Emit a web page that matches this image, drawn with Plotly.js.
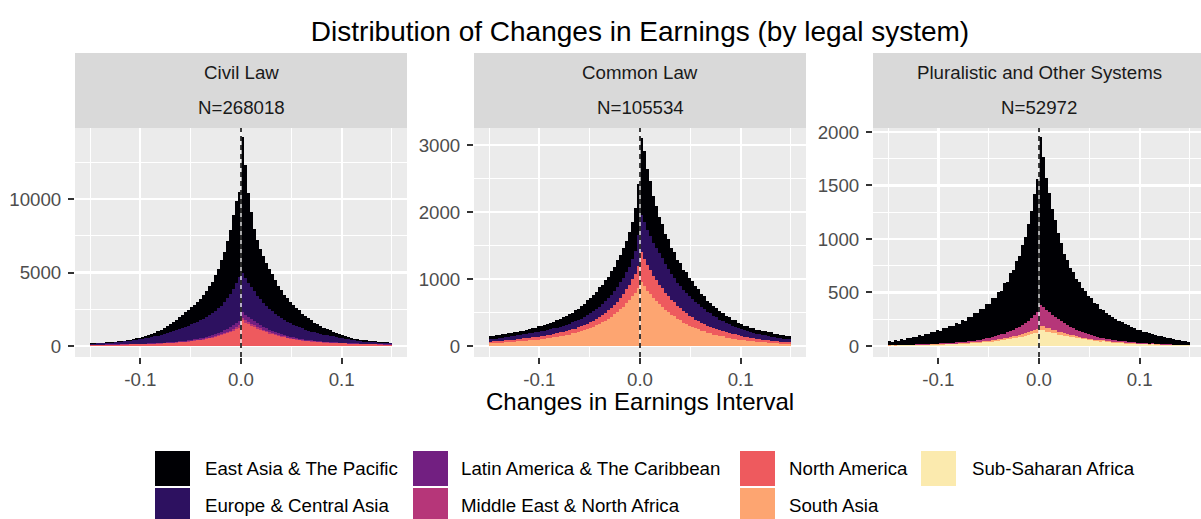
<!DOCTYPE html>
<html>
<head>
<meta charset="utf-8">
<script src="https://cdn.plot.ly/plotly-3.0.1.min.js"></script>
<style>
html,body{margin:0;padding:0;background:#ffffff;}
#chart{width:1201px;height:519px;}
</style>
</head>
<body>
<div id="chart"></div>
<script>
// ---------------- data ----------------
const regions = ["East Asia & The Pacific","Europe & Central Asia","Latin America & The Caribbean","Middle East & North Africa","North America","South Asia","Sub-Saharan Africa"];
const regionColors = ["#000004","#2D1160","#721F81","#B63679","#EE5A5E","#FDA571","#FBEAAE"];
const legalSystems = ["Civil Law","Common Law","Pluralistic and Other Systems"];
const sampleSizes = ["N=268018","N=105534","N=52972"];
const chartTitle = "Distribution of Changes in Earnings (by legal system)";
const xAxisTitle = "Changes in Earnings Interval";

// histogram bins: first bin centre and bin width (100 bins from -0.15 to 0.15)
const firstBinCenter = -0.1485;
const binWidth = 0.003;

const xTickVals = [-0.1, 0, 0.1];
const xTickText = ["-0.1", "0.0", "0.1"];
const xMinorVals = [-0.15, -0.05, 0.05, 0.15];
const yTickVals = [[0, 5000, 10000], [0, 1000, 2000, 3000], [0, 500, 1000, 1500, 2000]];
const yTickText = [["0", "5000", "10000"], ["0", "1000", "2000", "3000"], ["0", "500", "1000", "1500", "2000"]];
const yMinorVals = [[2500, 7500, 12500], [500, 1500, 2500], [250, 750, 1250, 1750]];

// Civil Law counts per bin (left to right)
const civilNorthAmerica = [69,71,73,75,77,79,81,84,87,90,93,96,100,104,108,113,118,124,130,136,143,151,159,168,178,189,201,214,228,244,261,280,300,323,348,375,405,438,475,515,560,610,665,725,790,860,940,1030,1130,1250,
1750,1590,1490,1360,1280,1160,1090,990,940,850,810,730,700,630,600,530,500,450,425,385,370,335,325,295,290,265,260,235,232,212,209,191,188,172,171,157,155,142,140,129,128,118,117,108,107,98,98,90,90,83];
const civilMiddleEast = [7,7,8,8,8,8,9,9,9,10,10,10,11,11,11,12,12,13,13,14,14,15,15,16,17,18,19,20,21,22,23,25,27,29,31,34,37,40,44,49,54,60,67,75,84,94,106,120,135,150,
180,165,150,138,126,115,105,96,88,81,74,68,62,57,52,48,44,40,37,34,32,30,28,26,24,22,21,20,19,18,17,16,15,14,14,13,13,12,12,11,11,10,10,10,9,9,9,8,8,8];
const civilLatinAmerica = [13,14,14,15,15,16,16,17,17,18,18,19,20,21,22,23,24,25,26,27,28,30,31,33,35,37,39,41,44,47,50,54,58,63,68,74,81,89,98,108,120,133,148,165,185,208,235,265,300,330,
400,370,340,310,285,260,240,220,200,185,170,155,142,130,120,110,100,92,85,78,72,67,62,58,54,50,47,44,41,39,37,35,33,31,30,28,27,26,25,24,23,22,21,20,19,18,18,17,17,16];
const civilEurope = [65,70,76,83,92,101,111,122,135,148,165,182,199,219,241,264,291,318,351,383,420,459,500,543,590,636,686,735,787,837,891,941,995,1050,1108,1167,1227,1293,1363,1438,1516,1597,1680,1785,1921,2088,2269,2485,2735,2970,
2670,2515,2330,2180,2020,1885,1755,1635,1520,1425,1325,1235,1155,1085,1020,960,915,865,820,770,720,680,635,595,555,525,490,465,435,410,385,360,340,320,290,265,240,215,195,170,140,133,124,115,107,99,90,84,77,71];
const civilEastAsia = [41,46,36,42,35,41,37,44,40,48,46,57,57,74,80,103,112,141,156,197,214,263,288,350,392,472,524,632,708,845,898,1005,1058,1175,1238,1365,1448,1625,1755,1960,2130,2420,2670,3070,3400,3870,4330,5020,5580,5800,
9200,7680,6080,5130,4270,3800,3390,3180,2880,2730,2500,2330,2050,1910,1680,1610,1430,1350,1200,1150,1010,955,830,785,670,630,520,490,405,380,300,275,210,195,150,150,118,112,106,108,96,94,78,79,67,70,60,62,54,57];

// Common Law counts per bin
const commonSouthAsia = [41,47,45,51,50,57,56,63,62,69,69,77,77,85,86,95,96,106,107,118,120,132,135,148,151,165,171,187,194,212,221,242,252,275,288,314,329,358,377,410,433,473,502,548,582,640,680,745,795,870,
950,895,825,780,715,678,620,588,536,510,464,443,402,386,349,335,302,291,262,252,227,219,196,190,170,165,147,143,127,124,110,108,95,94,83,81,72,71,62,62,55,54,48,47,42,41,37,37,33,33];
const commonNorthAmerica = [26,27,28,29,30,31,32,33,34,36,37,38,39,41,42,43,45,46,47,49,50,52,54,56,58,60,62,64,66,69,72,75,79,83,87,92,98,105,112,121,131,142,155,170,187,205,225,250,280,330,
450,410,380,355,328,308,290,273,258,240,225,210,196,183,171,160,150,140,132,124,117,111,105,100,95,90,85,80,76,72,68,65,62,59,56,53,50,47,45,42,40,38,36,34,32,31,29,27,26,25];
const commonEurope = [34,36,38,41,43,45,47,49,51,53,55,57,59,61,63,65,67,69,72,74,77,79,81,84,87,91,96,101,106,111,116,122,128,135,142,150,160,170,181,192,202,213,225,235,245,260,280,310,350,450,
550,550,530,510,500,480,475,455,430,405,385,362,346,327,315,300,288,274,262,248,237,224,210,199,187,174,163,152,142,132,124,115,107,100,94,89,84,80,76,73,69,66,62,59,56,53,50,48,45,43];
const commonEastAsia = [44,40,48,43,50,46,54,50,59,55,63,59,70,66,76,72,87,79,92,88,102,98,116,112,130,127,146,144,168,166,193,192,222,218,246,250,290,278,310,312,348,350,395,400,450,460,520,540,630,770,
1150,1060,900,820,690,630,545,505,455,440,395,385,345,338,305,306,280,266,235,226,190,186,166,160,141,139,123,122,108,109,92,93,80,78,68,72,64,69,62,66,60,65,58,63,56,60,52,56,48,51];

// Pluralistic and Other Systems counts per bin
const pluralSubSaharan = [4,5,4,6,5,6,6,7,7,8,8,9,9,10,10,11,11,13,13,15,15,17,17,19,19,21,22,25,26,29,30,33,35,39,41,45,47,52,55,61,64,71,75,83,87,96,101,111,117,125,
150,148,135,132,120,117,106,103,93,91,81,80,71,70,62,62,54,54,47,48,41,42,36,36,31,31,27,27,23,23,20,20,17,18,15,16,13,14,11,12,10,10,9,9,7,8,6,7,5,6];
const pluralSouthAsia = [1,1,2,2,2,2,2,2,2,3,3,3,3,3,4,4,4,4,5,5,5,6,6,6,7,7,8,8,9,9,10,10,11,12,13,14,15,16,17,18,19,20,21,23,25,27,29,31,33,35,
40,38,36,34,32,30,28,26,24,22,21,20,19,18,17,16,15,14,13,12,11,10,10,9,9,8,8,7,7,6,6,6,5,5,5,4,4,4,4,3,3,3,3,3,2,2,2,2,2,2];
const pluralMiddleEast = [2,2,2,2,2,3,3,3,3,4,4,4,5,5,5,6,6,7,7,8,8,9,10,11,12,13,14,15,16,18,20,22,24,26,29,32,36,40,44,49,55,61,68,76,85,96,108,122,140,160,
190,176,168,147,141,122,117,100,96,81,78,66,63,53,51,43,41,35,33,28,27,22,22,18,18,15,14,13,12,11,10,9,8,8,7,7,6,6,5,5,5,4,4,4,3,3,3,3,2,2];
const pluralEastAsia = [38,29,47,40,56,48,65,58,76,70,86,80,99,93,112,106,127,120,142,136,161,152,180,172,203,196,226,220,254,248,286,280,322,316,362,360,410,405,468,470,540,560,630,660,745,800,905,1000,1130,1240,
1570,1400,1235,1112,990,906,802,738,650,612,553,526,474,455,410,396,356,348,310,303,270,260,243,228,212,200,186,175,162,152,142,133,124,115,107,100,94,86,82,74,71,64,61,55,53,46,45,38,37,31];

// stacking order bottom -> top, as [region index, counts]
const panelSeries = [
  [[4, civilNorthAmerica], [3, civilMiddleEast], [2, civilLatinAmerica], [1, civilEurope], [0, civilEastAsia]],
  [[5, commonSouthAsia], [4, commonNorthAmerica], [1, commonEurope], [0, commonEastAsia]],
  [[6, pluralSubSaharan], [5, pluralSouthAsia], [3, pluralMiddleEast], [0, pluralEastAsia]]
];

// ---------------- layout geometry (pixels) ----------------
const W = 1201, H = 519;
const px = v => v / W;
const py = v => 1 - v / H;
const panelLeft = [75, 474, 873];
const panelRight = [407, 806, 1201];
const stripTop = 53, panelTop = 128, panelBottom = 357;
const xRanges = [[-0.165, 0.165], [-0.165, 0.165], [-0.165, 0.161]];
const yRanges = [[-748, 14830], [-164, 3254], [-103, 2037]];

const FONT = '"Liberation Sans", Arial, sans-serif';
const axisTextColor = '#4d4d4d';

const traces = [];
panelSeries.forEach((series, p) => {
  const sfx = p === 0 ? '' : String(p + 1);
  series.forEach(([ri, counts]) => {
    traces.push({
      type: 'bar',
      x0: firstBinCenter,
      dx: binWidth,
      y: counts,
      xaxis: 'x' + sfx,
      yaxis: 'y' + sfx,
      name: regions[ri],
      marker: {color: regionColors[ri], line: {width: 0}},
      showlegend: false,
      hoverinfo: 'skip'
    });
  });
});

const layout = {
  width: W, height: H,
  margin: {l: 0, r: 0, t: 0, b: 0, pad: 0},
  paper_bgcolor: '#ffffff',
  plot_bgcolor: '#ebebeb',
  barmode: 'stack',
  bargap: 0,
  showlegend: false,
  font: {family: FONT, color: '#000000'},
  title: {
    text: chartTitle,
    x: px(640), xanchor: 'center', xref: 'paper',
    y: py(31), yanchor: 'middle', yref: 'container',
    font: {family: FONT, size: 28, color: '#000000'}
  },
  shapes: [],
  annotations: []
};

for (let p = 0; p < 3; p++) {
  const sfx = p === 0 ? '' : String(p + 1);
  layout['xaxis' + sfx] = {
    domain: [px(panelLeft[p]), px(panelRight[p])],
    range: xRanges[p],
    anchor: 'y' + sfx,
    tickmode: 'array', tickvals: xTickVals, ticktext: xTickText,
    ticks: 'outside', ticklen: 6, tickwidth: 2, tickcolor: '#333333',
    tickfont: {family: FONT, size: 18.7, color: axisTextColor},
    showgrid: true, gridcolor: '#ffffff', gridwidth: 2.2,
    zeroline: false, showline: false, fixedrange: true,
    minor: {tickmode: 'array', tickvals: xMinorVals, showgrid: true, gridcolor: '#ffffff', gridwidth: 1.1, ticks: ''}
  };
  layout['yaxis' + sfx] = {
    domain: [py(panelBottom), py(panelTop)],
    range: yRanges[p],
    anchor: 'x' + sfx,
    tickmode: 'array', tickvals: yTickVals[p], ticktext: yTickText[p],
    ticks: 'outside', ticklen: 6, tickwidth: 2, tickcolor: '#333333',
    ticklabelstandoff: 3,
    tickfont: {family: FONT, size: 18.7, color: axisTextColor},
    showgrid: true, gridcolor: '#ffffff', gridwidth: 2.2,
    zeroline: false, showline: false, fixedrange: true,
    minor: {tickmode: 'array', tickvals: yMinorVals[p], showgrid: true, gridcolor: '#ffffff', gridwidth: 1.1, ticks: ''}
  };
  // facet strip
  layout.shapes.push({
    type: 'rect', xref: 'paper', yref: 'paper',
    x0: px(panelLeft[p]), x1: px(panelRight[p]) + (p === 2 ? 0.01 : 0),
    y0: py(panelTop), y1: py(stripTop),
    fillcolor: '#d9d9d9', line: {width: 0}, layer: 'below'
  });
  const cx = px((panelLeft[p] + panelRight[p] + (p === 2 ? 4 : 0)) / 2);
  layout.annotations.push({
    text: legalSystems[p], xref: 'paper', yref: 'paper', x: cx, y: py(73),
    xanchor: 'center', yanchor: 'middle', showarrow: false,
    font: {family: FONT, size: 18.7, color: '#1a1a1a'}
  });
  layout.annotations.push({
    text: sampleSizes[p], xref: 'paper', yref: 'paper', x: cx, y: py(107),
    xanchor: 'center', yanchor: 'middle', showarrow: false,
    font: {family: FONT, size: 18.7, color: '#1a1a1a'}
  });
  // zero line: thin light seam between the bins, with black dashes on top
  layout.shapes.push({
    type: 'line', xref: 'x' + sfx, yref: 'y' + sfx + ' domain',
    x0: 0, x1: 0, y0: 0, y1: 1,
    line: {color: '#f2f2f2', width: 1.4}, layer: 'above'
  });
  layout.shapes.push({
    type: 'line', xref: 'x' + sfx, yref: 'y' + sfx + ' domain',
    x0: 0, x1: 0, y0: 0, y1: 1,
    line: {color: '#000000', width: 1.5, dash: '5px,4px'}, layer: 'above'
  });
}

// shared x-axis title under the middle panel
layout.annotations.push({
  text: xAxisTitle, xref: 'paper', yref: 'paper', x: px(640), y: py(401),
  xanchor: 'center', yanchor: 'middle', showarrow: false,
  font: {family: FONT, size: 24, color: '#000000'}
});

// legend (2 rows, filled by column)
const keyLeft = [155, 413, 740, 921];
const labelLeft = [203, 459, 787, 970];
const rowTop = [451, 488];
const keySize = 35;
regions.forEach((name, i) => {
  const col = Math.floor(i / 2), row = i % 2;
  layout.shapes.push({
    type: 'rect', xref: 'paper', yref: 'paper',
    x0: px(keyLeft[col]), x1: px(keyLeft[col] + keySize),
    y0: py(rowTop[row] + keySize), y1: py(rowTop[row]),
    fillcolor: regionColors[i], line: {width: 0}
  });
  layout.annotations.push({
    text: name, xref: 'paper', yref: 'paper',
    x: px(labelLeft[col]), y: py(rowTop[row] + keySize / 2),
    xanchor: 'left', yanchor: 'middle', showarrow: false,
    font: {family: FONT, size: 18.7, color: '#000000'}
  });
});

Plotly.newPlot('chart', traces, layout, {displayModeBar: false, staticPlot: true});
</script>
</body>
</html>
